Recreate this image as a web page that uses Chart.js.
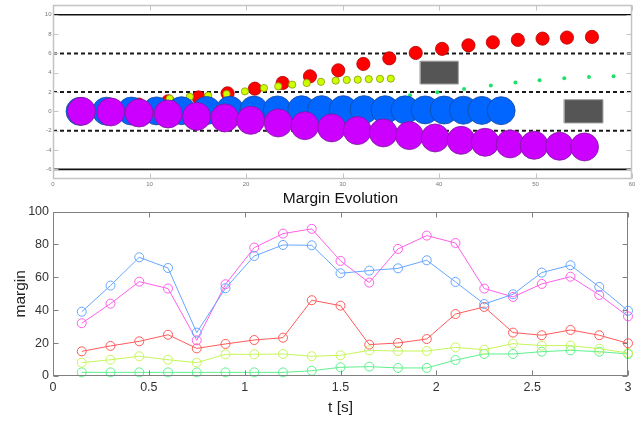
<!DOCTYPE html>
<html>
<head>
<meta charset="utf-8">
<script src="https://cdn.jsdelivr.net/npm/chart.js@4.4.1/dist/chart.umd.min.js"></script>
<style>
  html, body { margin: 0; padding: 0; background: #fff; }
  #wrap { position: relative; width: 639px; height: 422px; overflow: hidden; }
  #trackChart { position: absolute; left: 0; top: 0; }
  #marginChart { position: absolute; left: 0; top: 186px; }
</style>
</head>
<body>
<div id="wrap">
  <canvas id="trackChart" width="639" height="190"></canvas>
  <canvas id="marginChart" width="639" height="236"></canvas>
</div>
<script>
// ---------- top panel: object positions ----------
const purpleX = [2.95, 5.99, 8.92, 11.93, 14.88, 17.81, 20.48, 23.34, 26.1, 28.88, 31.54, 34.23, 36.93, 39.6, 42.29, 44.78, 47.37, 49.86, 52.49, 55.08];
const purpleY = [0, -0.06, -0.17, -0.27, -0.52, -0.68, -0.93, -1.2, -1.48, -1.71, -1.99, -2.23, -2.51, -2.75, -3.0, -3.2, -3.37, -3.51, -3.61, -3.68];

const blueX = [2.8, 5.54, 8.13, 10.73, 13.32, 15.92, 18.33, 20.82, 23.24, 25.77, 27.84, 30.08, 32.23, 34.41, 36.49, 38.56, 40.53, 42.53, 44.44, 46.44];
const blueY = [0, 0.02, 0.03, 0.05, 0.07, 0.09, 0.11, 0.13, 0.15, 0.17, 0.18, 0.18, 0.18, 0.17, 0.16, 0.15, 0.14, 0.12, 0.1, 0.07];

const redX = [2.77, 5.78, 8.89, 11.93, 15.09, 18.09, 20.92, 23.8, 26.63, 29.56, 32.16, 34.85, 37.59, 40.32, 43.05, 45.58, 48.17, 50.73, 53.26, 55.85];
const redY = [0.07, 0.38, 0.7, 1.04, 1.44, 1.87, 2.35, 2.94, 3.63, 4.25, 4.91, 5.49, 6.05, 6.47, 6.84, 7.15, 7.4, 7.53, 7.64, 7.71];

const limeX = [10.24, 12.1, 14.18, 16.08, 17.99, 19.89, 21.86, 23.34, 24.79, 26.29, 27.77, 29.29, 30.44, 31.58, 32.72, 33.89, 35.0];
const limeY = [1.0, 1.32, 1.52, 1.63, 1.8, 2.07, 2.42, 2.59, 2.77, 2.94, 3.06, 3.18, 3.25, 3.28, 3.34, 3.37, 3.39];

const greenX = [34.2, 37.0, 39.83, 42.6, 45.37, 47.92, 50.42, 52.98, 55.54, 58.09];
const greenY = [1.21, 1.68, 1.97, 2.32, 2.68, 3.0, 3.23, 3.42, 3.56, 3.63];

// grey obstacles (x from..to, y from..to)
const boxX0 = [38.06, 52.98];
const boxX1 = [42.0, 56.99];
const boxY0 = [2.83, -1.2];
const boxY1 = [5.2, 1.21];

const solidLevels = [10, -6];
const dashedLevels = [6, 2, -2];
const trackXTicks = [0, 10, 20, 30, 40, 50, 60];
const trackYTicks = [-6, -4, -2, 0, 2, 4, 6, 8, 10];

// ---------- bottom panel: margin evolution ----------
const timeS = [0.15, 0.3, 0.45, 0.6, 0.75, 0.9, 1.05, 1.2, 1.35, 1.5, 1.65, 1.8, 1.95, 2.1, 2.25, 2.4, 2.55, 2.7, 2.85, 3.0];
const marginBlue = [39.1, 55.0, 72.2, 65.7, 26.4, 53.4, 73.0, 79.7, 79.5, 62.5, 64.1, 65.5, 70.4, 57.2, 43.8, 49.7, 62.9, 67.4, 54.2, 39.7];
const marginPink = [32.1, 44.0, 57.4, 53.2, 21.7, 55.8, 78.1, 86.6, 89.5, 70.0, 56.8, 77.3, 85.4, 80.9, 53.2, 48.1, 56.0, 60.4, 49.3, 36.3];
const marginRed = [15.0, 18.3, 21.1, 25.1, 16.8, 19.5, 21.9, 23.3, 46.1, 42.8, 19.1, 20.1, 22.5, 37.7, 42.0, 26.4, 24.8, 28.0, 24.8, 19.9];
const marginLime = [8.1, 9.9, 12.0, 9.9, 8.1, 13.2, 13.2, 13.4, 12.0, 12.6, 15.6, 15.2, 15.2, 17.4, 16.0, 19.7, 18.5, 18.5, 16.6, 14.0];
const marginGreen = [2.2, 2.2, 2.2, 2.2, 2.2, 2.2, 2.2, 2.2, 3.2, 5.3, 5.7, 4.9, 4.9, 9.7, 13.4, 13.4, 14.8, 15.6, 14.8, 13.4];
const marginXTicks = [0, 0.5, 1, 1.5, 2, 2.5, 3];
const marginYTicks = [0, 20, 40, 60, 80, 100];

Chart.defaults.font.family = "'Liberation Sans', Arial, sans-serif";
Chart.defaults.animation = false;

const pts = (xs, ys) => xs.map((x, i) => ({ x: x, y: ys[i] }));

// box round the plot area + tick marks pointing inwards on all four sides
const frame = {
  id: 'frame',
  afterDraw(chart, args, opts) {
    const { ctx, chartArea: a, scales } = chart;
    const L = Math.round(a.left) + 0.5, R = Math.round(a.right) - 0.5;
    const T = Math.round(a.top) + 0.5, B = Math.round(a.bottom) - 0.5;
    ctx.save();
    ctx.strokeStyle = opts.color;
    ctx.lineWidth = 1;
    ctx.beginPath();
    scales.x.ticks.forEach(t => {
      const px = Math.round(scales.x.getPixelForValue(t.value)) + 0.5;
      ctx.moveTo(px, B); ctx.lineTo(px, B - opts.len);
      ctx.moveTo(px, T); ctx.lineTo(px, T + opts.len);
    });
    scales.y.ticks.forEach(t => {
      const py = Math.round(scales.y.getPixelForValue(t.value)) + 0.5;
      ctx.moveTo(L, py); ctx.lineTo(L + opts.len, py);
      ctx.moveTo(R, py); ctx.lineTo(R - opts.len, py);
    });
    ctx.stroke();
    ctx.lineWidth = opts.width;
    ctx.strokeRect(L, T, R - L, B - T);
    ctx.restore();
  }
};

// ---------- top chart ----------
function dots(xs, ys, r, fill, edge, bw) {
  return {
    type: 'scatter',
    data: pts(xs, ys),
    pointRadius: r,
    pointBackgroundColor: fill,
    pointBorderColor: edge,
    pointBorderWidth: bw,
  };
}

const trackSets = [
  dots(purpleX, purpleY, 14, '#cc00ff', '#7a1a99', 0.8),
  dots(blueX, blueY, 14, '#0066ff', '#1a4a99', 0.8),
  dots(limeX, limeY, 3.6, '#ccff00', '#889900', 0.8),
  dots(redX, redY, 6.6, '#ff0000', '#b30000', 0.8),
  dots(greenX, greenY, 2, '#1ee06a', '#1ee06a', 0),
];

boxX0.forEach((x0, i) => {
  trackSets.push({
    type: 'line',
    data: [
      { x: x0, y: boxY0[i] }, { x: boxX1[i], y: boxY0[i] },
      { x: boxX1[i], y: boxY1[i] }, { x: x0, y: boxY1[i] }, { x: x0, y: boxY0[i] },
    ],
    fill: 'shape',
    backgroundColor: '#555555',
    borderColor: '#a0a0a0',
    borderWidth: 1,
    pointRadius: 0,
    tension: 0,
  });
});

dashedLevels.forEach(v => {
  trackSets.push({
    type: 'line',
    data: [{ x: 0, y: v }, { x: 60, y: v }],
    borderColor: '#1a1a1a',
    borderWidth: 2,
    borderDash: [4, 3],
    pointRadius: 0,
  });
});

solidLevels.forEach(v => {
  trackSets.push({
    type: 'line',
    data: [{ x: 0, y: v }, { x: 60, y: v }],
    borderColor: '#111',
    borderWidth: 1.6,
    pointRadius: 0,
  });
});

new Chart(document.getElementById('trackChart'), {
  type: 'scatter',
  data: { datasets: trackSets },
  plugins: [frame],
  options: {
    responsive: false,
    events: [],
    layout: { autoPadding: false, padding: { top: 5, right: 7, left: 0, bottom: 0 } },
    plugins: {
      legend: { display: false },
      tooltip: { enabled: false },
      frame: { color: '#c4c4c4', len: 5, width: 1.5 },
    },
    scales: {
      x: {
        type: 'linear',
        min: 0,
        max: 60,
        afterBuildTicks: s => { s.ticks = trackXTicks.map(v => ({ value: v })); },
        afterFit: s => { s.height = 11; },
        grid: { display: false, drawTicks: false },
        border: { display: false },
        ticks: { font: { size: 6 }, color: '#777', padding: 1.5, maxRotation: 0 },
      },
      y: {
        type: 'linear',
        min: -7,
        max: 11,
        afterBuildTicks: s => { s.ticks = trackYTicks.map(v => ({ value: v })); },
        afterFit: s => { s.width = 53; },
        grid: { display: false, drawTicks: false },
        border: { display: false },
        ticks: { font: { size: 6 }, color: '#777', padding: 1.5 },
      },
    },
  },
});

// ---------- bottom chart ----------
function marginLine(ys, color) {
  return {
    data: pts(timeS, ys),
    borderColor: color,
    borderWidth: 1,
    pointRadius: 4.5,
    pointBorderWidth: 1,
    pointBorderColor: color,
    pointBackgroundColor: 'rgba(0,0,0,0)',
    tension: 0,
    clip: false,
  };
}

new Chart(document.getElementById('marginChart'), {
  type: 'line',
  data: {
    datasets: [
      marginLine(marginBlue, '#66a6ff'),
      marginLine(marginPink, '#ff5fe8'),
      marginLine(marginRed, '#ff5a5a'),
      marginLine(marginLime, '#c6f55a'),
      marginLine(marginGreen, '#5ef08e'),
    ],
  },
  plugins: [frame],
  options: {
    responsive: false,
    events: [],
    layout: { autoPadding: false, padding: { top: 0, right: 11, left: 0, bottom: 0 } },
    plugins: {
      legend: { display: false },
      tooltip: { enabled: false },
      title: {
        display: true,
        text: 'Margin Evolution',
        fullSize: false,
        color: '#111',
        font: { size: 15.5, weight: 'normal' },
        padding: { top: 3, bottom: 4 },
      },
      frame: { color: '#808080', len: 5, width: 1 },
    },
    scales: {
      x: {
        type: 'linear',
        min: 0,
        max: 3,
        afterBuildTicks: s => { s.ticks = marginXTicks.map(v => ({ value: v })); },
        afterFit: s => { s.height = 46; },
        grid: { display: false, drawTicks: false },
        border: { display: false },
        ticks: { font: { size: 12.5 }, color: '#333', padding: 4, maxRotation: 0, callback: v => String(v) },
        title: {
          display: true,
          text: 't [s]',
          color: '#222',
          font: { size: 15.5 },
          padding: { top: 0, bottom: 5 },
        },
      },
      y: {
        type: 'linear',
        min: 0,
        max: 100,
        afterBuildTicks: s => { s.ticks = marginYTicks.map(v => ({ value: v })); },
        afterFit: s => { s.width = 53; },
        grid: { display: false, drawTicks: false },
        border: { display: false },
        ticks: { font: { size: 12.5 }, color: '#333', padding: 4 },
        title: {
          display: true,
          text: 'margin',
          color: '#222',
          font: { size: 15.5 },
          padding: { top: 11.5, bottom: 0 },
        },
      },
    },
  },
});
</script>
</body>
</html>
